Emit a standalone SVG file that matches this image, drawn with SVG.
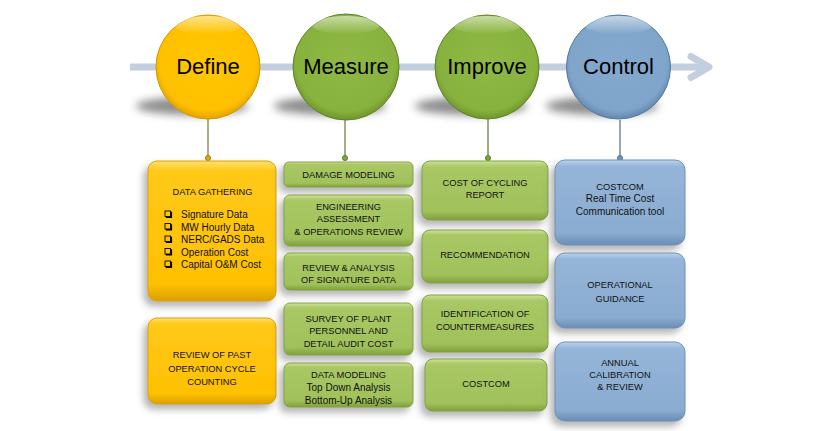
<svg xmlns="http://www.w3.org/2000/svg" width="839" height="431" viewBox="0 0 839 431">
<style>
.ct{font-family:"Liberation Sans",Arial,sans-serif;font-size:22px;fill:#000;text-anchor:middle}
.bt{font-family:"Liberation Sans",Arial,sans-serif;font-size:9.3px;fill:#111;text-anchor:middle}
.lt{font-family:"Liberation Sans",Arial,sans-serif;font-size:10px;fill:#111;text-anchor:middle}
.li{font-family:"Liberation Sans",Arial,sans-serif;font-size:10px;fill:#111}
.yb{fill:url(#gy);stroke:#D9A200;stroke-width:1;filter:url(#bs)}
.gb{fill:url(#gg);stroke:#82A342;stroke-width:1;filter:url(#bs)}
.bb{fill:url(#gb);stroke:#7092B8;stroke-width:1;filter:url(#bs)}
.cb{fill:none;stroke:#000;stroke-width:0.9}
.cs{fill:none;stroke:#000;stroke-width:1.6}
.hl{fill:url(#gl)}
.sd{fill:#6f6f6f;opacity:0.8;filter:url(#sh)}
</style>
<defs>
<linearGradient id="gy" x1="0" y1="0" x2="0" y2="1">
<stop offset="0" stop-color="#FFE070"/><stop offset="0.07" stop-color="#FFC91A"/><stop offset="0.88" stop-color="#FFC000"/><stop offset="1" stop-color="#D9A000"/>
</linearGradient>
<linearGradient id="gg" x1="0" y1="0" x2="0" y2="1">
<stop offset="0" stop-color="#CDE29A"/><stop offset="0.1" stop-color="#A9C865"/><stop offset="0.85" stop-color="#A0C15A"/><stop offset="1" stop-color="#7E9F3C"/>
</linearGradient>
<linearGradient id="gb" x1="0" y1="0" x2="0" y2="1">
<stop offset="0" stop-color="#BCD2EA"/><stop offset="0.08" stop-color="#95B5D8"/><stop offset="0.86" stop-color="#8AACD1"/><stop offset="1" stop-color="#6A8DB3"/>
</linearGradient>
<radialGradient id="cy" cx="0.5" cy="0.45" r="0.55">
<stop offset="0" stop-color="#FFC800"/><stop offset="0.85" stop-color="#FFC000"/><stop offset="1" stop-color="#E0A300"/>
</radialGradient>
<radialGradient id="cg" cx="0.5" cy="0.45" r="0.55">
<stop offset="0" stop-color="#8FB944"/><stop offset="0.85" stop-color="#88B23E"/><stop offset="1" stop-color="#6E962C"/>
</radialGradient>
<radialGradient id="cc" cx="0.5" cy="0.45" r="0.55">
<stop offset="0" stop-color="#84A9CE"/><stop offset="0.85" stop-color="#7FA5CA"/><stop offset="1" stop-color="#6288AE"/>
</radialGradient>
<linearGradient id="gl" x1="0" y1="0" x2="0" y2="1">
<stop offset="0" stop-color="#fff" stop-opacity="0.55"/><stop offset="1" stop-color="#fff" stop-opacity="0"/>
</linearGradient>
<filter id="bs" x="-20%" y="-20%" width="140%" height="150%">
<feGaussianBlur in="SourceAlpha" stdDeviation="3.5"/>
<feOffset dx="-4" dy="5" result="o"/>
<feFlood flood-color="#6a6a6a" flood-opacity="0.5"/>
<feComposite in2="o" operator="in"/>
<feMerge><feMergeNode/><feMergeNode in="SourceGraphic"/></feMerge>
</filter>
<filter id="sh" x="-30%" y="-100%" width="160%" height="300%">
<feGaussianBlur stdDeviation="4.5"/>
</filter>
</defs>
<rect width="839" height="431" fill="#fff"/>
<g id="timeline">
<line x1="130" y1="67" x2="704" y2="67" stroke="#C3CFDF" stroke-width="7"/>
<polyline points="691,56.5 709,67 691,77.5" fill="none" stroke="#C3CFDF" stroke-width="7" stroke-linecap="round" stroke-linejoin="round"/>
</g>
<g id="shadows">
<ellipse class="sd" cx="192" cy="106" rx="56" ry="9"/>
<ellipse class="sd" cx="330" cy="106" rx="56" ry="9"/>
<ellipse class="sd" cx="471" cy="106" rx="56" ry="9"/>
<ellipse class="sd" cx="602" cy="106" rx="56" ry="9"/>
</g>
<g id="connectors">
<line x1="208" y1="119" x2="208" y2="157" stroke="#7E7638" stroke-width="1.2"/>
<circle cx="208" cy="158" r="2.6" fill="#E0A800" stroke="#8C7420" stroke-width="0.8"/>
<line x1="345" y1="120" x2="345" y2="157" stroke="#66793A" stroke-width="1.2"/>
<circle cx="345" cy="158" r="2.6" fill="#7EA23A" stroke="#5A7428" stroke-width="0.8"/>
<line x1="488" y1="119" x2="488" y2="157" stroke="#5E7A2E" stroke-width="1.2"/>
<circle cx="488" cy="158" r="2.6" fill="#7EA23A" stroke="#5A7428" stroke-width="0.8"/>
<line x1="620" y1="120" x2="620" y2="157" stroke="#56697A" stroke-width="1.2"/>
<circle cx="620" cy="158" r="2.6" fill="#6F94BA" stroke="#4E6A88" stroke-width="0.8"/>
</g>
<g id="define">
<circle cx="208" cy="67" r="52" fill="url(#cy)" stroke="#D49A00" stroke-width="1"/>
<ellipse class="hl" cx="208" cy="25" rx="34" ry="9"/>
<text class="ct" x="208" y="74">Define</text>
</g>
<g id="measure">
<circle cx="346" cy="67" r="53" fill="url(#cg)" stroke="#5E8526" stroke-width="1"/>
<ellipse class="hl" cx="346" cy="25" rx="34" ry="9"/>
<text class="ct" x="346" y="74">Measure</text>
</g>
<g id="improve">
<circle cx="487" cy="67" r="52" fill="url(#cg)" stroke="#5E8526" stroke-width="1"/>
<ellipse class="hl" cx="487" cy="25" rx="34" ry="9"/>
<text class="ct" x="487" y="74">Improve</text>
</g>
<g id="control">
<circle cx="618.5" cy="67" r="52" fill="url(#cc)" stroke="#557A9F" stroke-width="1"/>
<ellipse class="hl" cx="618.5" cy="25" rx="34" ry="9"/>
<text class="ct" x="618.5" y="74">Control</text>
</g>
<g id="define-data-gathering">
<rect class="yb" x="148" y="161" width="128" height="140" rx="9"/>
<text class="bt" x="212.5" y="194.5">DATA GATHERING</text>
<rect class="cb" x="165" y="211" width="5.5" height="5.5"/><polyline class="cs" points="171.3,211.8 171.3,217.3 165.8,217.3"/>
<text class="li" x="181" y="218">Signature Data</text>
<rect class="cb" x="165" y="223.5" width="5.5" height="5.5"/><polyline class="cs" points="171.3,224.3 171.3,229.8 165.8,229.8"/>
<text class="li" x="181" y="230.5">MW Hourly Data</text>
<rect class="cb" x="165" y="236" width="5.5" height="5.5"/><polyline class="cs" points="171.3,236.8 171.3,242.3 165.8,242.3"/>
<text class="li" x="181" y="243">NERC/GADS Data</text>
<rect class="cb" x="165" y="248.5" width="5.5" height="5.5"/><polyline class="cs" points="171.3,249.3 171.3,254.8 165.8,254.8"/>
<text class="li" x="181" y="255.5">Operation Cost</text>
<rect class="cb" x="165" y="261" width="5.5" height="5.5"/><polyline class="cs" points="171.3,261.8 171.3,267.3 165.8,267.3"/>
<text class="li" x="181" y="268">Capital O&amp;M Cost</text>
</g>
<g id="define-review">
<rect class="yb" x="148" y="318" width="128" height="86" rx="9"/>
<text class="bt" x="212" y="358">REVIEW OF PAST</text>
<text class="bt" x="212" y="371.5">OPERATION CYCLE</text>
<text class="bt" x="212" y="385">COUNTING</text>
</g>
<g id="measure-damage">
<rect class="gb" x="284" y="162" width="129" height="25" rx="5"/>
<text class="bt" x="348.5" y="177.5">DAMAGE MODELING</text>
</g>
<g id="measure-engineering">
<rect class="gb" x="284" y="195" width="129" height="51" rx="6"/>
<text class="bt" x="348.5" y="209.5">ENGINEERING</text>
<text class="bt" x="348.5" y="222">ASSESSMENT</text>
<text class="bt" x="348.5" y="234.5">&amp; OPERATIONS REVIEW</text>
</g>
<g id="measure-review">
<rect class="gb" x="284" y="253" width="129" height="37" rx="6"/>
<text class="bt" x="348.5" y="270.5">REVIEW &amp; ANALYSIS</text>
<text class="bt" x="348.5" y="283">OF SIGNATURE DATA</text>
</g>
<g id="measure-survey">
<rect class="gb" x="284" y="303" width="129" height="52" rx="6"/>
<text class="bt" x="348.5" y="321.5">SURVEY OF PLANT</text>
<text class="bt" x="348.5" y="334">PERSONNEL AND</text>
<text class="bt" x="348.5" y="346.5">DETAIL AUDIT COST</text>
</g>
<g id="measure-data-modeling">
<rect class="gb" x="284" y="363" width="129" height="44" rx="6"/>
<text class="bt" x="348.5" y="377.5">DATA MODELING</text>
<text class="lt" x="348.5" y="390.5">Top Down Analysis</text>
<text class="lt" x="348.5" y="403.5">Bottom-Up Analysis</text>
</g>
<g id="improve-report">
<rect class="gb" x="422" y="161" width="126" height="59" rx="8"/>
<text class="bt" x="485" y="185.5">COST OF CYCLING</text>
<text class="bt" x="485" y="198">REPORT</text>
</g>
<g id="improve-recommendation">
<rect class="gb" x="422" y="230" width="126" height="53" rx="8"/>
<text class="bt" x="485" y="257.5">RECOMMENDATION</text>
</g>
<g id="improve-identification">
<rect class="gb" x="422" y="295" width="126" height="57" rx="8"/>
<text class="bt" x="485" y="316.5">IDENTIFICATION OF</text>
<text class="bt" x="485" y="329.5">COUNTERMEASURES</text>
</g>
<g id="improve-costcom">
<rect class="gb" x="425" y="359" width="122" height="52" rx="8"/>
<text class="bt" x="486" y="386.5">COSTCOM</text>
</g>
<g id="control-costcom">
<rect class="bb" x="555" y="160" width="130" height="85" rx="10"/>
<text class="bt" x="620" y="189.5">COSTCOM</text>
<text class="lt" x="620" y="202">Real Time Cost</text>
<text class="lt" x="620" y="214.5">Communication tool</text>
</g>
<g id="control-guidance">
<rect class="bb" x="555" y="253" width="130" height="75" rx="10"/>
<text class="bt" x="620" y="287.5">OPERATIONAL</text>
<text class="bt" x="620" y="301.5">GUIDANCE</text>
</g>
<g id="control-calibration">
<rect class="bb" x="555" y="342" width="130" height="79" rx="10"/>
<text class="bt" x="620" y="365.5">ANNUAL</text>
<text class="bt" x="620" y="377.5">CALIBRATION</text>
<text class="bt" x="620" y="389.5">&amp; REVIEW</text>
</g>
</svg>
